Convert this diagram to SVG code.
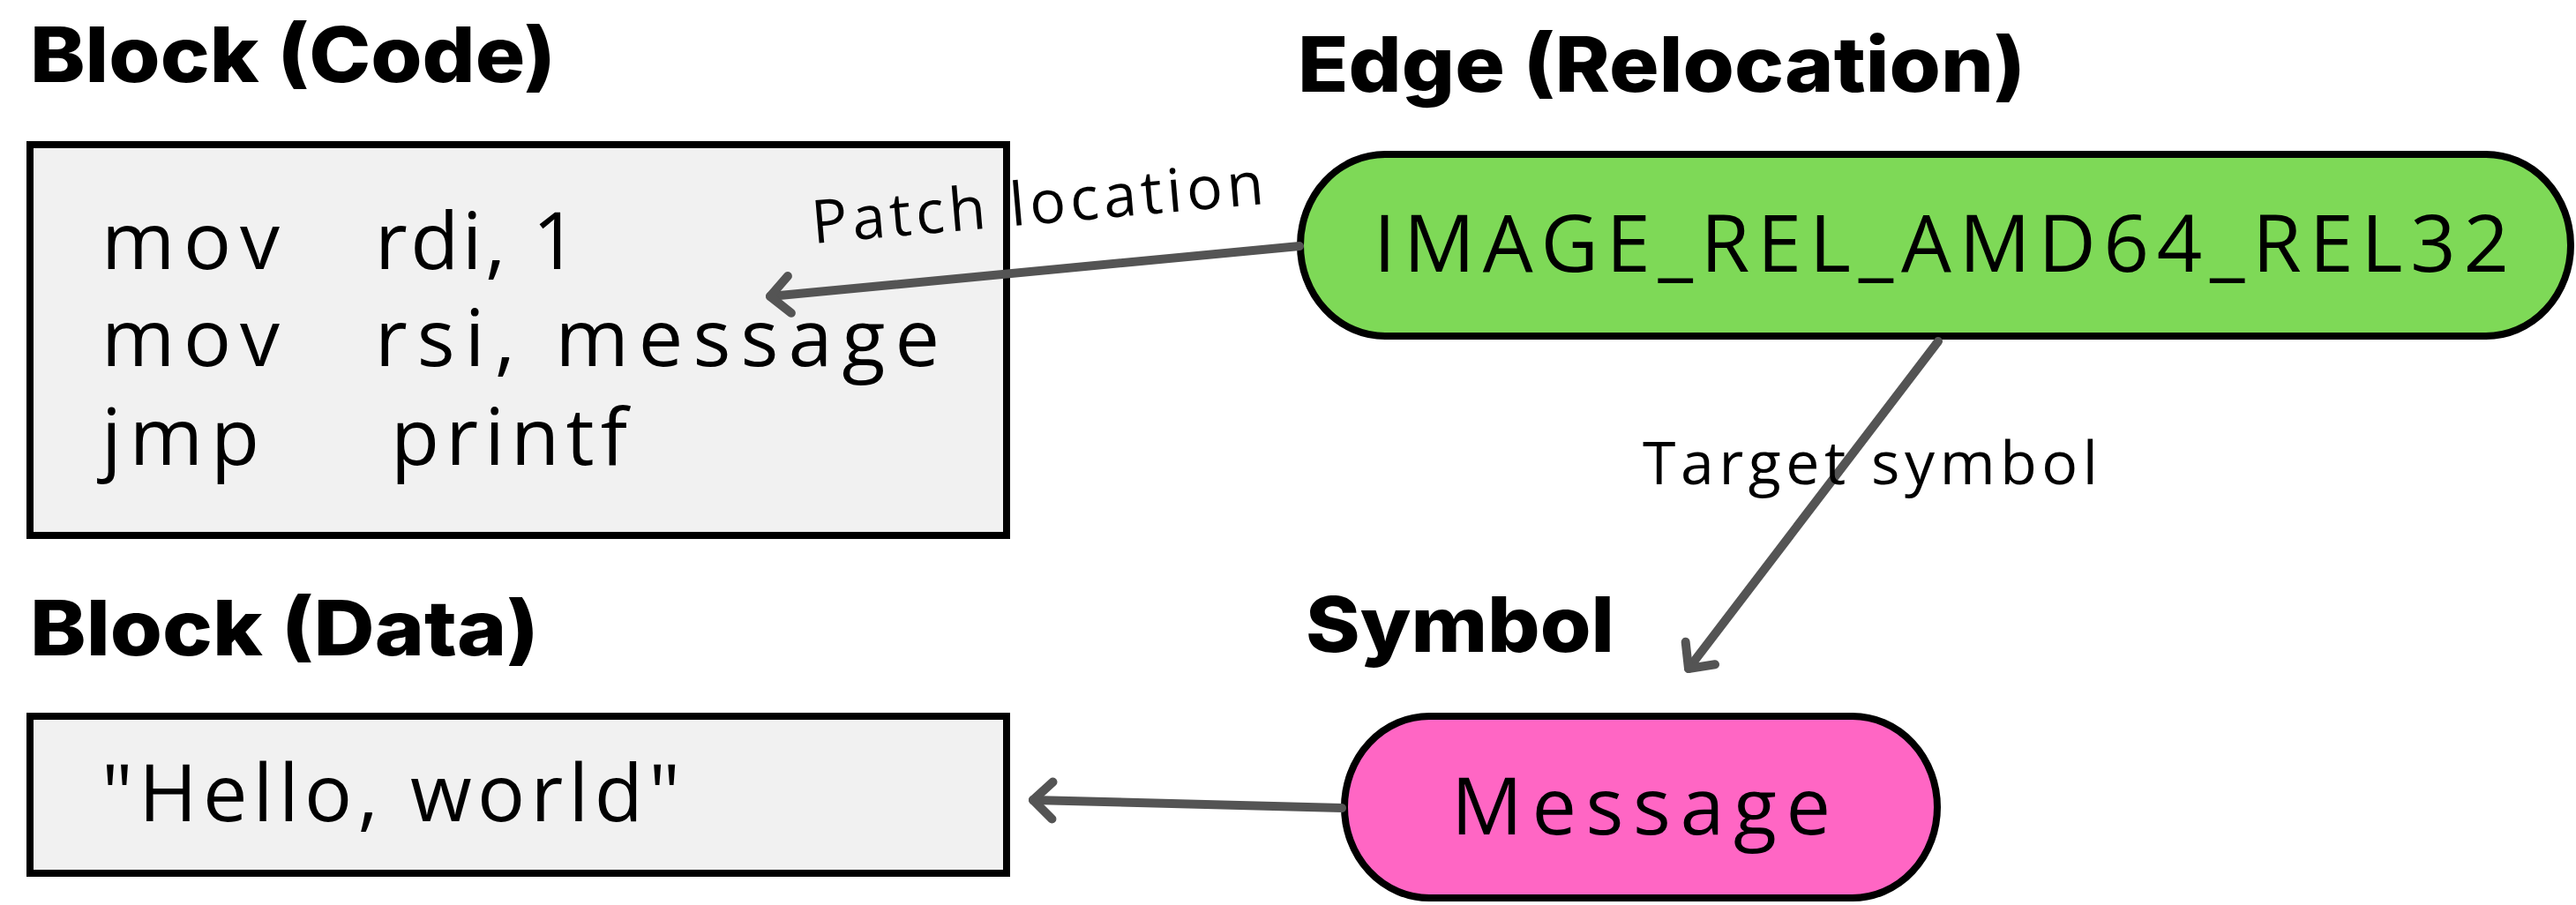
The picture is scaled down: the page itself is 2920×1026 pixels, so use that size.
<svg xmlns="http://www.w3.org/2000/svg" width="2920" height="1026" viewBox="0 0 2920 1026">
  <style>
    .title { font-family: "Inter", "Liberation Sans", sans-serif; font-weight: 800; font-size: 86px; fill: #000; }
    .mono { font-family: "Open Sans", "Liberation Sans", sans-serif; font-weight: 400; font-size: 90px; fill: #000; }
    .label { font-family: "Open Sans", "Liberation Sans", sans-serif; font-weight: 400; font-size: 68px; fill: #000; }
    .block { fill: #f1f1f1; stroke: #000; stroke-width: 8; }
    .edge { fill: #7ed957; stroke: #000; stroke-width: 8; }
    .sym { fill: #ff66c4; stroke: #000; stroke-width: 8; }
    .conn { stroke: #545454; stroke-width: 10; fill: none; stroke-linecap: round; }
  </style>
  <defs>
    <marker id="chev" markerUnits="userSpaceOnUse" viewBox="-34 -30 42 60" refX="0" refY="0" markerWidth="42" markerHeight="60" orient="auto">
      <path d="M -22 -21 L 0 0 L -22 21" fill="none" stroke="#545454" stroke-width="10" stroke-linecap="round" stroke-linejoin="round"/>
    </marker>
  </defs>

  <!-- section titles -->
  <text class="title" x="34" y="93" textLength="596" lengthAdjust="spacingAndGlyphs">Block (Code)</text>
  <text class="title" x="1471" y="104" textLength="825" lengthAdjust="spacingAndGlyphs">Edge (Relocation)</text>
  <text class="title" x="34" y="743" textLength="577" lengthAdjust="spacingAndGlyphs">Block (Data)</text>
  <text class="title" x="1480" y="739" textLength="350" lengthAdjust="spacingAndGlyphs">Symbol</text>

  <!-- code block -->
  <g id="block-code">
    <rect class="block" x="34" y="164" width="1107" height="443"/>
    <text class="mono" x="115" y="305" textLength="202" lengthAdjust="spacing">mov</text>
    <text class="mono" x="425" y="305" textLength="230" lengthAdjust="spacing">rdi, 1</text>
    <text class="mono" x="115" y="415" textLength="202" lengthAdjust="spacing">mov</text>
    <text class="mono" x="425" y="415" textLength="640" lengthAdjust="spacing">rsi, message</text>
    <text class="mono" x="115" y="527" textLength="179" lengthAdjust="spacing">jmp</text>
    <text class="mono" x="443" y="527" textLength="268" lengthAdjust="spacing">printf</text>
  </g>

  <!-- data block -->
  <g id="block-data">
    <rect class="block" x="34" y="812" width="1107" height="178"/>
    <text class="mono" x="115" y="931" textLength="656" lengthAdjust="spacing">"Hello, world"</text>
  </g>

  <!-- relocation edge -->
  <g id="edge-reloc">
    <rect class="edge" x="1474" y="175" width="1440" height="206" rx="96" ry="103"/>
    <text class="mono" x="1557" y="308" textLength="1287" lengthAdjust="spacing">IMAGE_REL_AMD64_REL32</text>
  </g>

  <!-- symbol -->
  <g id="symbol-message">
    <rect class="sym" x="1524" y="812" width="672" height="206" rx="96" ry="103"/>
    <text class="mono" x="1860" y="946" text-anchor="middle" textLength="430" lengthAdjust="spacing">Message</text>
  </g>

  <!-- connectors -->
  <g id="connectors">
    <line class="conn" x1="1473" y1="279" x2="873" y2="336" marker-end="url(#chev)"/>
    <line class="conn" x1="2197" y1="387" x2="1914" y2="758" marker-end="url(#chev)"/>
    <line class="conn" x1="1521" y1="916" x2="1171" y2="907" marker-end="url(#chev)"/>
    <text class="label" x="922" y="276" transform="rotate(-5 922 276)" textLength="514" lengthAdjust="spacing">Patch location</text>
    <text class="label" x="1862" y="549" textLength="516" lengthAdjust="spacing">Target symbol</text>
  </g>
</svg>
